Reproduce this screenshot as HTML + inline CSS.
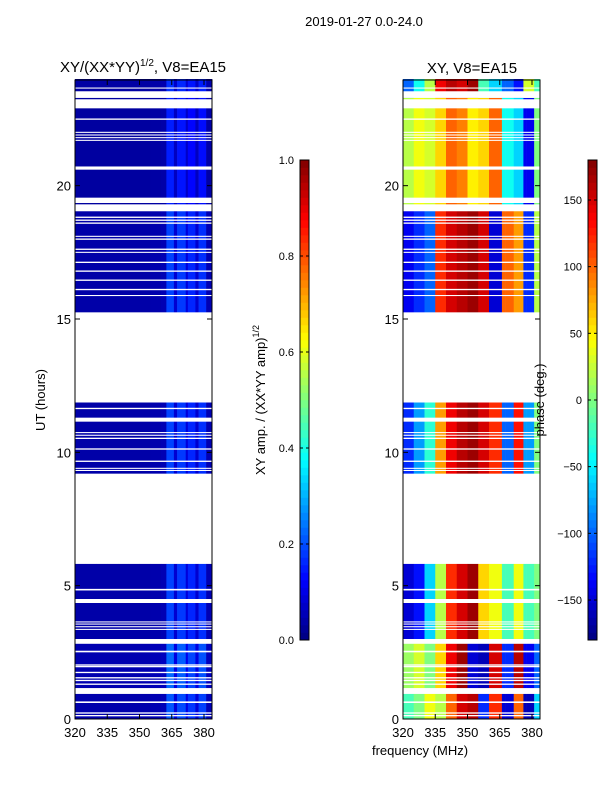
<!DOCTYPE html>
<html><head><meta charset="utf-8"><style>
body{margin:0;background:#fff}
svg text{font-family:"Liberation Sans",sans-serif;fill:#000}
</style></head><body>
<svg id="fig" width="600" height="800" viewBox="0 0 600 800" xmlns="http://www.w3.org/2000/svg">
<text x="364" y="26" font-size="13" text-anchor="middle">2019-01-27 0.0-24.0</text>
<text x="143" y="72" font-size="15" text-anchor="middle">XY/(XX*YY)<tspan dy="-6" font-size="10">1/2</tspan><tspan dy="6">, V8=EA15</tspan></text>
<text x="472" y="73" font-size="15" text-anchor="middle">XY, V8=EA15</text>
<text transform="translate(45,400) rotate(-90)" font-size="13" text-anchor="middle">UT (hours)</text>
<text x="420" y="755" font-size="13" text-anchor="middle">frequency (MHz)</text>
<text transform="translate(265,400) rotate(-90)" font-size="13" text-anchor="middle">XY amp. / (XX*YY amp)<tspan dy="-6" font-size="9">1/2</tspan></text>
<g id="plots"></g>
<text transform="translate(544,400) rotate(-90)" font-size="13" text-anchor="middle">phase (deg.)</text>
</svg>
<script>
// ---- data ----
const freqEdges = [320,325,330,335,340,345,350,355,360,362.5,366,367.5,371.5,372.5,376,377.5,381,385];
const segStart = [0, 1.0, 2.85, 5.82, 9.2, 11.87, 15.25, 19.3, 23.3];
const segEnd   = [1.0, 2.85, 5.82, 9.2, 11.87, 15.25, 19.3, 23.3, 24];
const phaseP0 = [-20, 0, 40, 20, 100, 150, 160, -120, 120, 120, -150, -150, 100, 100, -160, -160, -60];
const phaseP1 = [10, 30, 0, 60, 140, 170, -150, -160, 150, 150, -120, -120, 160, 160, -140, -140, -100];
const phaseP3 = [-150, -130, -60, 20, 120, 150, 170, 60, 40, 40, -20, -20, 40, 40, -20, -20, 0];
const phaseP4 = [-120, -80, -30, 80, 140, 160, 170, 150, 120, 120, -100, -100, 130, 130, -80, -80, 0];
const phaseP5 = [-140, -120, -100, 120, 150, 160, 170, 150, -150, -150, 100, 100, 80, 80, -120, -120, 20];
const phaseP6 = [20, 40, 30, 60, 100, 90, 50, 60, 100, 100, -40, -40, -60, -60, -140, -140, 0];
const phaseP7 = [-100, -40, 20, 140, 160, 150, 170, -20, -60, -60, -100, -100, -130, -130, 30, 30, -20];
const segPhase = [phaseP0, phaseP1, phaseP3, null, phaseP4, null, phaseP5, phaseP6, phaseP7];
const ampProfile = [0.04,0.04,0.04,0.04,0.04,0.04,0.04,0.045,0.05,0.19,0.08,0.18,0.09,0.16,0.08,0.17,0.05];
const segAmpScale = [1.1, 1.2, 1.0, 0, 1.0, 0, 1.0, 0.8, 0.9];
const gapStart = [0.1,0.2,0.6,0.94,1.28,1.42,1.52,1.72,1.94,2.0,2.5,2.82,3.34,3.44,3.54,3.62,4.35,4.82,5.82,9.3,9.38,9.64,10.1,10.5,10.62,10.72,11.15,11.62,11.87,15.86,16.08,16.43,16.77,17.1,17.48,17.59,17.97,18.08,18.57,18.68,18.79,19.04,19.35,20.6,21.68,21.78,21.88,21.98,22.47,22.9,23.29,23.64];
const gapEnd   = [0.15,0.25,0.66,1.16,1.33,1.47,1.57,1.77,1.99,2.05,2.56,3.0,3.38,3.48,3.58,3.66,4.5,4.88,9.2,9.34,9.42,9.69,10.15,10.55,10.66,10.76,11.3,11.67,15.25,15.9,16.13,16.48,16.82,17.15,17.52,17.64,18.02,18.12,18.62,18.73,18.84,19.3,19.55,20.72,21.72,21.82,21.92,22.02,22.52,23.24,23.54,23.68];
const yTicks = [0,5,10,15,20];
const xTicks = [320,335,350,365,380];
const ampTicks = [0.0,0.2,0.4,0.6,0.8,1.0];
const phaseTicks = [-150,-100,-50,0,50,100,150];

// ---- helpers ----
const NS='http://www.w3.org/2000/svg';
const root=document.getElementById('plots');
function mk(tag,attrs,parent){const e=document.createElementNS(NS,tag);for(const k in attrs)e.setAttribute(k,attrs[k]);(parent||root).appendChild(e);return e;}
function jet(v){v=Math.max(0,Math.min(1,v));
 const r=Math.max(0,Math.min(1,1.5-Math.abs(4*v-3)));
 const g=Math.max(0,Math.min(1,1.5-Math.abs(4*v-2)));
 const b=Math.max(0,Math.min(1,1.5-Math.abs(4*v-1)));
 return `rgb(${Math.round(r*255)},${Math.round(g*255)},${Math.round(b*255)})`;}
const y0=719, y24=79;
const yS=h=>y0-(h/24)*(y0-y24);
const xL=f=>75+(f-320)*(129/60);
const xR=f=>403+(f-320)*(129/60);

function panel(name,xs,left,valueFn){
 const g=mk('g',{});
 
 
 for(let s=0;s<segStart.length;s++){
  for(let i=0;i<freqEdges.length-1;i++){
   const v=valueFn(s,i); if(v===null) continue;
   const x1=Math.max(left,xs(freqEdges[i])), x2=Math.min(left+137,xs(freqEdges[i+1]));
   const r=mk('rect',{x:x1,y:yS(segEnd[s]),width:x2-x1+0.3,height:yS(segStart[s])-yS(segEnd[s])+0.3,fill:jet(v)},g);
   
   
  }
 }
 for(let k=0;k<gapStart.length;k++){
  const r=mk('rect',{x:left,y:yS(gapEnd[k]),width:137,height:yS(gapStart[k])-yS(gapEnd[k]),fill:'#fff'},g);
  
  
 }
 const fr=mk('rect',{x:left,y:80,width:137,height:639,fill:'none',stroke:'#000','stroke-width':1},g);
 
 
 yTicks.forEach(t=>{const y=yS(t);
  mk('line',{x1:left,x2:left+5,y1:y,y2:y,stroke:'#000'},g);
  mk('line',{x1:left+137,x2:left+132,y1:y,y2:y,stroke:'#000'},g);
  const tx=mk('text',{x:left-4,y:y+5,'font-size':13,'text-anchor':'end'},g);tx.textContent=t;
  
  
 });
 xTicks.forEach(t=>{const x=xs(t);
  mk('line',{x1:x,x2:x,y1:719,y2:714,stroke:'#000'},g);
  mk('line',{x1:x,x2:x,y1:80,y2:85,stroke:'#000'},g);
  const tx=mk('text',{x:x,y:737,'font-size':13,'text-anchor':'middle'},g);tx.textContent=t;
  
  
 });
}
panel('amplitude-heatmap',xL,75,(s,i)=>segPhase[s]?ampProfile[i]*segAmpScale[s]:null);
panel('phase-heatmap',xR,403,(s,i)=>segPhase[s]?(segPhase[s][i]+180)/360:null);

function colorbar(name,x,vmin,vmax,ticks,fmt){
 const g=mk('g',{});
 
 
 const N=64;
 for(let i=0;i<N;i++){
  mk('rect',{x:x,y:640-(i+1)*480/N,width:9,height:480/N+0.3,fill:jet((i+0.5)/N)},g);
 }
 mk('rect',{x:x,y:160,width:9,height:480,fill:'none',stroke:'#000'},g);
 ticks.forEach(t=>{const y=640-(t-vmin)/(vmax-vmin)*480;
  mk('line',{x1:x,x2:x+3,y1:y,y2:y,stroke:'#000'},g);
  mk('line',{x1:x+9,x2:x+6,y1:y,y2:y,stroke:'#000'},g);
  const tx=mk('text',{x:x-6,y:y+4,'font-size':11,'text-anchor':'end'},g);tx.textContent=fmt(t);
  
  
 });
}
colorbar('amp-colorbar',300,0,1,ampTicks,t=>t.toFixed(1));
colorbar('phase-colorbar',588,-180,180,phaseTicks,t=>t<0?'\u2212'+(-t):String(t));
</script>
</body></html>
